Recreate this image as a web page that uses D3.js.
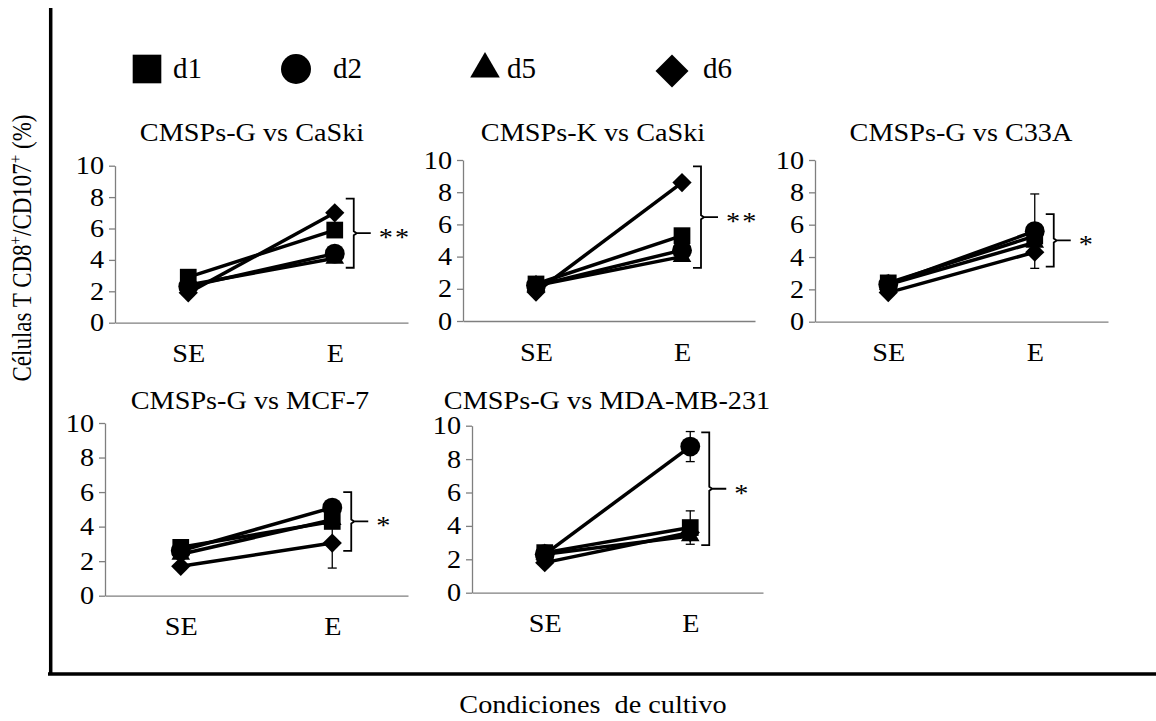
<!DOCTYPE html>
<html>
<head>
<meta charset="utf-8">
<script src="https://cdn.jsdelivr.net/npm/d3@7"></script>
<style>
  body { margin: 0; background: #fff; }
  text { font-family: "Liberation Serif", "Times New Roman", serif; fill: #000; }
</style>
</head>
<body>
<div id="chart"></div>
<script>
const WIDTH = 1156;
const HEIGHT = 721;
const STRETCH = 1.13;
const FONT = 25;

// data
const conditions = ['SE', 'E'];
const donors = ['d1', 'd2', 'd5', 'd6'];
const panelTitles = ['CMSPs-G vs CaSki', 'CMSPs-K vs CaSki', 'CMSPs-G vs C33A', 'CMSPs-G vs MCF-7', 'CMSPs-G vs MDA-MB-231'];
const sigLabels = ['**', '**', '*', '*', '*'];
const yTicks = [0, 2, 4, 6, 8, 10];

// one row per donor (d1, d2, d5, d6): [SE, E]
const valsCaSkiG = [[2.9, 5.9], [2.3, 4.4], [2.4, 4.1], [1.9, 7.0]];
const valsCaSkiK = [[2.3, 5.3], [2.2, 4.4], [2.2, 4.0], [1.8, 8.6]];
const valsC33A   = [[2.4, 5.3], [2.3, 5.6], [2.3, 4.9], [1.8, 4.3]];
const valsMCF7   = [[2.8, 4.3], [2.6, 5.1], [2.4, 4.4], [1.7, 3.05]];
const valsMDA    = [[2.4, 3.9], [2.3, 8.75], [2.3, 3.4], [1.8, 3.6]];

// error bars (only a few are visible)
const errCaSkiG = [[0, 0], [0, 0], [0, 0], [0, 0]];
const errCaSkiK = [[0, 0], [0, 0], [0, 0], [0, 0]];
const errC33A   = [[0, 0], [0, 2.3], [0, 0], [0, 0]];
const errMCF7   = [[0, 0], [0, 0], [0, 0], [0, 1.45]];
const errMDA    = [[0, 1.0], [0, 0.9], [0, 0], [0, 0]];

// significance brackets: [top, bottom] in % units
const bracketRanges = [[7.9, 3.5], [9.6, 3.3], [6.65, 3.4], [6.0, 2.6], [9.6, 2.85]];

const panelValues = [valsCaSkiG, valsCaSkiK, valsC33A, valsMCF7, valsMDA];
const panelErrors = [errCaSkiG, errCaSkiK, errC33A, errMCF7, errMDA];

// panel placement in pixels
const layout = [
  {x0: 115, x1: 408, y0: 322.7, y1: 165.7, tx: 252, ty: 141},
  {x0: 463, x1: 755, y0: 321, y1: 160, tx: 593, ty: 141},
  {x0: 815, x1: 1108, y0: 321.7, y1: 160, tx: 961, ty: 141},
  {x0: 105, x1: 408, y0: 595.7, y1: 423, tx: 250, ty: 409},
  {x0: 472, x1: 763, y0: 592.7, y1: 425.7, tx: 607, ty: 409}
];

// square rotated 45 degrees, like the spreadsheet marker
const diamondSym = {
  draw(ctx, size) {
    const r = Math.sqrt(size) / 2;
    ctx.moveTo(0, -r); ctx.lineTo(r, 0); ctx.lineTo(0, r); ctx.lineTo(-r, 0); ctx.closePath();
  }
};
const symbolTypes = [d3.symbolSquare, d3.symbolCircle, d3.symbolTriangle, diamondSym];
const markerSizes = [280, 310, 150, 370];
const legendSizes = [820, 707, 380, 1090];

const svg = d3.select('#chart').append('svg')
  .attr('width', WIDTH)
  .attr('height', HEIGHT);

// widen horizontal text around its anchor point
function stretch(sel, sx) {
  sel.each(function() {
    const t = d3.select(this);
    const x = +t.attr('x') || 0;
    t.attr('transform', 'translate(' + (x * (1 - sx)) + ',0) scale(' + sx + ',1)');
  });
}

// outer frame
svg.append('line').attr('x1', 50.7).attr('x2', 50.7).attr('y1', 8).attr('y2', 675)
  .attr('stroke', '#000').attr('stroke-width', 3.5);
svg.append('line').attr('x1', 48).attr('x2', WIDTH).attr('y1', 674).attr('y2', 674)
  .attr('stroke', '#000').attr('stroke-width', 3.5);

// legend
const legendX = [147, 296, 485, 672];
const legendTextX = [173, 333, 507, 703];
const legend = svg.append('g');
donors.forEach((d, i) => {
  legend.append('path')
    .attr('d', d3.symbol().type(symbolTypes[i]).size(legendSizes[i])())
    .attr('transform', 'translate(' + legendX[i] + ',' + (i === 3 ? 71 : 69) + ')')
    .attr('fill', '#000');
  legend.append('text')
    .attr('x', legendTextX[i]).attr('y', 78)
    .attr('font-size', 29)
    .text(d);
});

panelValues.forEach((vals, p) => {
  const L = layout[p];
  const g = svg.append('g');

  const x = d3.scalePoint().domain(conditions).range([L.x0, L.x1]).padding(0.5);
  const y = d3.scaleLinear().domain([0, 10]).range([L.y0, L.y1]);

  const yAxis = g.append('g')
    .attr('transform', 'translate(' + L.x0 + ',0)')
    .call(d3.axisLeft(y).tickValues(yTicks).tickSize(6).tickSizeOuter(0).tickPadding(5));
  const xAxis = g.append('g')
    .attr('transform', 'translate(0,' + L.y0 + ')')
    .call(d3.axisBottom(x).tickSize(0).tickSizeOuter(0).tickPadding(22));

  [yAxis, xAxis].forEach(ax => {
    ax.select('.domain').attr('stroke', '#7f7f7f').attr('stroke-width', 1.3);
    ax.selectAll('line').attr('stroke', '#7f7f7f').attr('stroke-width', 1.3);
    ax.selectAll('text').attr('font-size', FONT).attr('font-family', '"Liberation Serif", serif').attr('fill', '#000');
    stretch(ax.selectAll('text'), STRETCH);
  });

  // title
  const title = g.append('text')
    .attr('x', L.tx).attr('y', L.ty)
    .attr('text-anchor', 'middle')
    .attr('font-size', FONT)
    .text(panelTitles[p]);
  stretch(title, STRETCH);

  // donor lines
  const line = d3.line().x((v, i) => x(conditions[i])).y(v => y(v));
  vals.forEach(row => {
    g.append('path').attr('d', line(row))
      .attr('fill', 'none').attr('stroke', '#000').attr('stroke-width', 3.5);
  });

  // error bars
  panelErrors[p].forEach((row, s) => {
    row.forEach((e, i) => {
      if (!e) return;
      const cx = x(conditions[i]);
      const v = vals[s][i];
      g.append('line').attr('x1', cx).attr('x2', cx).attr('y1', y(v - e)).attr('y2', y(v + e))
        .attr('stroke', '#000').attr('stroke-width', 1.3);
      [v - e, v + e].forEach(c => {
        g.append('line').attr('x1', cx - 4.5).attr('x2', cx + 4.5).attr('y1', y(c)).attr('y2', y(c))
          .attr('stroke', '#000').attr('stroke-width', 1.3);
      });
    });
  });

  // markers
  vals.forEach((row, s) => {
    row.forEach((v, i) => {
      g.append('path')
        .attr('d', d3.symbol().type(symbolTypes[s]).size(markerSizes[s])())
        .attr('transform', 'translate(' + x(conditions[i]) + ',' + y(v) + ')')
        .attr('fill', '#000');
    });
  });

  // significance bracket
  const bx = x('E') + 19;
  const top = y(bracketRanges[p][0]);
  const bot = y(bracketRanges[p][1]);
  const mid = (top + bot) / 2;
  g.append('path')
    .attr('d', 'M' + (bx - 8) + ',' + top + 'H' + bx + 'V' + (mid - 2) + 'L' + (bx + 3) + ',' + mid +
               'L' + bx + ',' + (mid + 2) + 'V' + bot + 'H' + (bx - 8) +
               'M' + (bx + 3) + ',' + mid + 'H' + (bx + 17))
    .attr('fill', 'none').attr('stroke', '#000').attr('stroke-width', 1.8);
  const sig = g.append('text')
    .attr('x', bx + 25).attr('y', mid + 13)
    .attr('font-size', FONT)
    .attr('letter-spacing', 2)
    .text(sigLabels[p]);
  stretch(sig, STRETCH);
});

// axis titles
const yTitle = svg.append('text')
  .attr('transform', 'translate(31,248) scale(1.15,1) rotate(-90)')
  .attr('text-anchor', 'middle')
  .attr('font-size', 23);
yTitle.append('tspan').text('Células T CD8');
yTitle.append('tspan').attr('font-size', 15).attr('dy', -9).text('+');
yTitle.append('tspan').attr('dy', 9).text('/CD107');
yTitle.append('tspan').attr('font-size', 15).attr('dy', -9).text('+');
yTitle.append('tspan').attr('dy', 9).text(' (%)');

const xTitle = svg.append('text')
  .attr('x', 593).attr('y', 713)
  .attr('text-anchor', 'middle')
  .attr('font-size', FONT)
  .attr('xml:space', 'preserve')
  .text('Condiciones  de cultivo');
stretch(xTitle, STRETCH);
</script>
</body>
</html>
